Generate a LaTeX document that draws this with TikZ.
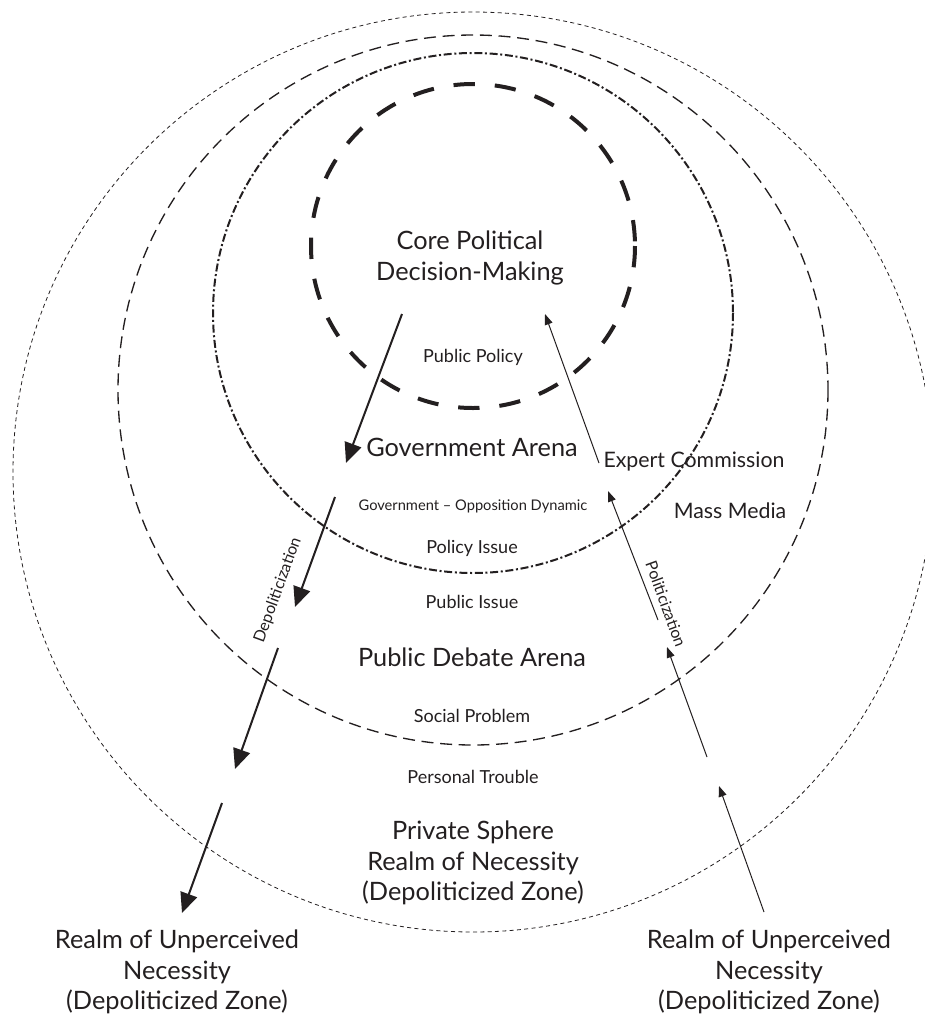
\documentclass[tikz,border=0pt]{standalone}
\usepackage{fontspec}
\setmainfont{Lato}
\usetikzlibrary{arrows.meta}

\definecolor{ink}{RGB}{35,31,32}

\tikzset{every picture/.style={line width=0.75pt}}
\tikzset{
  depolarrow/.style={draw=ink,line width=1.5pt,-{Triangle[length=15pt,width=13pt]}},
  polarrow/.style={draw=ink,line width=0.75pt,-{Triangle[length=8pt,width=6pt]}},
  bigtext/.style={text=ink,font=\fontsize{19}{23}\selectfont,align=center,inner sep=0.75pt},
  midtext/.style={text=ink,font=\fontsize{16}{19}\selectfont,inner sep=0.75pt},
  smalltext/.style={text=ink,font=\fontsize{13.5}{16}\selectfont,inner sep=0.75pt},
  tinytext/.style={text=ink,font=\fontsize{11}{13}\selectfont,inner sep=0.75pt},
  slanttext/.style={text=ink,font=\fontsize{12}{14}\selectfont,inner sep=0.75pt},
}

\begin{document}
\begin{tikzpicture}[x=0.75pt,y=0.75pt,yscale=-1,xscale=1]
\useasboundingbox (0,0) rectangle (925,1015);

%Shape: Circle [outer, private sphere]
\draw [draw=ink,line width=0.6pt,dash pattern=on 3pt off 2.5pt] (473,472) circle (460);
%Shape: Circle [public debate arena]
\draw [draw=ink,line width=1pt,dash pattern=on 9pt off 5pt] (473,390) circle (355);
%Shape: Circle [government arena]
\draw [draw=ink,line width=1.5pt,dash pattern=on 6pt off 2pt on 1.5pt off 2pt] (473,313) circle (260);
%Shape: Circle [core]
\draw [draw=ink,line width=3pt,dash pattern=on 16pt off 15pt] (473,246) circle (162);

% Text Node
\node (core) at (470,258) [bigtext] {Core Political\\Decision-Making};
% Text Node
\node (pubpolicy) at (473,357) [smalltext] {Public Policy};
% Text Node
\node (govarena) at (472,447) [bigtext] {Government Arena};
% Text Node
\node (expert) at (694,462) [midtext] {Expert Commission};
% Text Node
\node (massmedia) at (730,511) [midtext] {Mass Media};
% Text Node
\node (govopp) at (473,506) [tinytext] {Government -- Opposition Dynamic};
% Text Node
\node (policyissue) at (472,548) [smalltext] {Policy Issue};
% Text Node
\node (publicissue) at (472,602) [smalltext] {Public Issue};
% Text Node
\node (pubdebate) at (472,657) [bigtext] {Public Debate Arena};
% Text Node
\node (social) at (472,716) [smalltext] {Social Problem};
% Text Node
\node (personal) at (473,777) [smalltext] {Personal Trouble};
% Text Node
\node (private) at (473,863) [bigtext] {Private Sphere\\Realm of Necessity\\(Depoliticized Zone)};
% Text Node
\node (realmleft) at (177,972) [bigtext] {Realm of Unperceived\\Necessity\\(Depoliticized Zone)};
% Text Node
\node (realmright) at (769,972) [bigtext] {Realm of Unperceived\\Necessity\\(Depoliticized Zone)};
% Text Node
\node (depol) at (278,590) [slanttext,rotate=70] {Depoliticization};
% Text Node
\node (pol) at (666,604) [slanttext,rotate=-70] {Politicization};

% arrow ends
\coordinate (da) at (402,314); \coordinate (db) at (346,463);
\coordinate (dc) at (335,497); \coordinate (dd) at (295,607);
\coordinate (de) at (278,648); \coordinate (df) at (235,769);
\coordinate (dg) at (222,803); \coordinate (dh) at (182,913);
\coordinate (pa) at (764,912); \coordinate (pb) at (719,786);
\coordinate (pc) at (707,757); \coordinate (pd) at (667,647);
\coordinate (pe) at (658,620); \coordinate (pf) at (608,491);
\coordinate (pg) at (599,463); \coordinate (ph) at (545,314);

%Straight Lines [depoliticization]
\draw [depolarrow] (da) -- (db);
\draw [depolarrow] (dc) -- (dd);
\draw [depolarrow] (de) -- (df);
\draw [depolarrow] (dg) -- (dh);
%Straight Lines [politicization]
\draw [polarrow] (pa) -- (pb);
\draw [polarrow] (pc) -- (pd);
\draw [polarrow] (pe) -- (pf);
\draw [polarrow] (pg) -- (ph);

\end{tikzpicture}
\end{document}
